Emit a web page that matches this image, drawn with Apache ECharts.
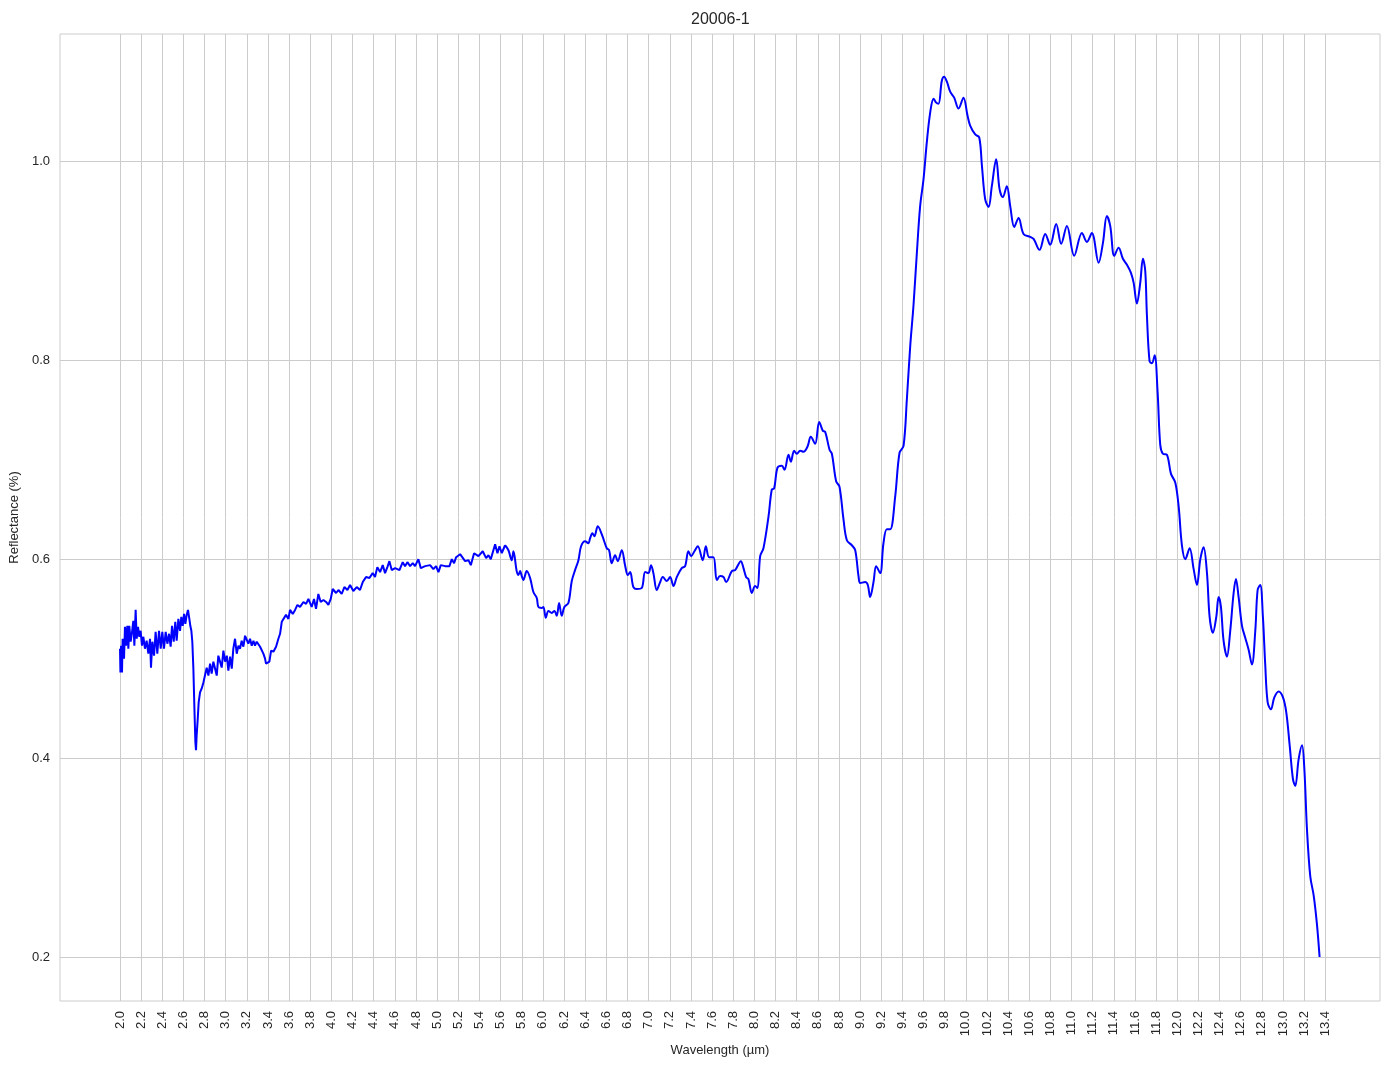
<!DOCTYPE html>
<html>
<head>
<meta charset="utf-8">
<script src="https://cdn.jsdelivr.net/npm/echarts@6/dist/echarts.min.js"></script>
<style>html,body{margin:0;padding:0;background:#fff}#c{width:1394px;height:1069px}</style>
</head>
<body>
<div id="c"></div>
<script>
const titleText = '20006-1';
const xName = 'Wavelength (µm)';
const yName = 'Reflectance (%)';
const xTicks = [2.0,2.2,2.4,2.6,2.8,3.0,3.2,3.4,3.6,3.8,4.0,4.2,4.4,4.6,4.8,5.0,5.2,5.4,5.6,5.8,6.0,6.2,6.4,6.6,6.8,7.0,7.2,7.4,7.6,7.8,8.0,8.2,8.4,8.6,8.8,9.0,9.2,9.4,9.6,9.8,10.0,10.2,10.4,10.6,10.8,11.0,11.2,11.4,11.6,11.8,12.0,12.2,12.4,12.6,12.8,13.0,13.2,13.4];
const yTicks = [0.2,0.4,0.6,0.8,1.0];

// noisy part (2.0 - 5.64 µm)
const wavelengthA = [2.000,2.004,2.010,2.019,2.025,2.038,2.047,2.057,2.069,2.079,2.088,2.101,2.114,2.126,2.136,2.148,2.158,2.170,2.183,2.195,2.208,2.221,2.236,2.252,2.268,2.284,2.293,2.306,2.322,2.337,2.353,2.369,2.385,2.400,2.416,2.432,2.448,2.464,2.479,2.492,2.508,2.523,2.536,2.552,2.568,2.580,2.593,2.606,2.618,2.631,2.643,2.656,2.665,2.675,2.684,2.694,2.703,2.713,2.719,2.725,2.735,2.744,2.757,2.773,2.789,2.804,2.820,2.836,2.852,2.867,2.883,2.899,2.915,2.930,2.946,2.962,2.978,2.994,3.010,3.025,3.041,3.057,3.072,3.088,3.104,3.120,3.135,3.151,3.167,3.183,3.198,3.214,3.230,3.246,3.262,3.277,3.293,3.309,3.325,3.341,3.356,3.372,3.381,3.397,3.413,3.429,3.451,3.476,3.498,3.514,3.530,3.545,3.570,3.593,3.608,3.634,3.656,3.678,3.703,3.735,3.760,3.782,3.797,3.813,3.835,3.854,3.876,3.898,3.924,3.949,3.971,3.993,4.012,4.044,4.066,4.097,4.122,4.151,4.176,4.207,4.239,4.270,4.296,4.327,4.359,4.390,4.412,4.434,4.460,4.485,4.507,4.529,4.548,4.570,4.602,4.643,4.674,4.696,4.718,4.744,4.769,4.791,4.822,4.845,4.886,4.933,4.964,4.990,5.012,5.034,5.075,5.116,5.138,5.160,5.179,5.217,5.264,5.296,5.318,5.349,5.390,5.431,5.463,5.485,5.507,5.548,5.570,5.589,5.611,5.642];
const reflectanceA = [0.510,0.486,0.513,0.486,0.520,0.500,0.532,0.513,0.533,0.510,0.533,0.517,0.527,0.538,0.513,0.549,0.520,0.532,0.522,0.528,0.513,0.522,0.510,0.518,0.505,0.520,0.491,0.517,0.503,0.527,0.505,0.528,0.510,0.527,0.510,0.527,0.515,0.525,0.512,0.533,0.517,0.537,0.518,0.540,0.528,0.542,0.533,0.545,0.535,0.544,0.549,0.540,0.533,0.528,0.517,0.490,0.453,0.416,0.408,0.423,0.439,0.456,0.466,0.470,0.476,0.478,0.491,0.483,0.495,0.485,0.497,0.490,0.483,0.503,0.497,0.491,0.508,0.497,0.503,0.488,0.502,0.490,0.510,0.520,0.505,0.513,0.510,0.518,0.512,0.523,0.522,0.515,0.520,0.513,0.518,0.513,0.517,0.515,0.512,0.510,0.505,0.500,0.495,0.493,0.497,0.508,0.507,0.512,0.520,0.525,0.537,0.535,0.544,0.540,0.549,0.545,0.549,0.554,0.552,0.557,0.555,0.560,0.559,0.552,0.560,0.550,0.565,0.557,0.559,0.557,0.554,0.560,0.570,0.566,0.569,0.565,0.572,0.569,0.574,0.568,0.572,0.569,0.577,0.582,0.581,0.586,0.582,0.592,0.587,0.594,0.586,0.592,0.598,0.589,0.591,0.589,0.597,0.593,0.597,0.593,0.596,0.593,0.600,0.591,0.593,0.594,0.590,0.593,0.587,0.594,0.593,0.593,0.600,0.596,0.602,0.605,0.598,0.599,0.594,0.606,0.603,0.608,0.601,0.604,0.600,0.615,0.606,0.613,0.606,0.614];

// smoother part (5.64 - 13.35 µm)
const wavelengthB = [5.642,5.674,5.705,5.721,5.752,5.768,5.784,5.800,5.815,5.847,5.879,5.910,5.942,5.957,5.989,6.005,6.027,6.052,6.084,6.109,6.131,6.153,6.178,6.203,6.241,6.273,6.304,6.336,6.361,6.399,6.430,6.446,6.468,6.487,6.519,6.557,6.604,6.626,6.651,6.683,6.708,6.746,6.777,6.803,6.825,6.856,6.888,6.935,6.967,6.998,7.023,7.045,7.077,7.109,7.134,7.172,7.203,7.235,7.266,7.313,7.345,7.376,7.402,7.433,7.465,7.512,7.541,7.572,7.613,7.645,7.676,7.708,7.733,7.787,7.818,7.872,7.897,7.922,7.944,7.976,8.007,8.030,8.055,8.086,8.134,8.165,8.187,8.219,8.260,8.285,8.323,8.345,8.376,8.402,8.433,8.465,8.502,8.534,8.575,8.613,8.648,8.670,8.711,8.733,8.774,8.805,8.843,8.875,8.922,8.954,8.985,9.001,9.048,9.073,9.095,9.127,9.152,9.190,9.221,9.253,9.285,9.332,9.373,9.411,9.442,9.474,9.505,9.537,9.568,9.600,9.631,9.663,9.695,9.720,9.742,9.773,9.795,9.821,9.852,9.890,9.931,9.978,10.016,10.041,10.089,10.127,10.152,10.183,10.215,10.246,10.287,10.319,10.350,10.388,10.420,10.458,10.499,10.546,10.609,10.641,10.697,10.751,10.798,10.855,10.902,10.956,11.025,11.098,11.145,11.192,11.256,11.297,11.334,11.366,11.404,11.445,11.486,11.524,11.561,11.587,11.618,11.650,11.675,11.697,11.713,11.738,11.760,11.786,11.814,11.839,11.864,11.902,11.940,11.981,12.013,12.044,12.076,12.117,12.155,12.186,12.218,12.249,12.281,12.306,12.337,12.369,12.391,12.413,12.438,12.470,12.501,12.533,12.555,12.580,12.612,12.643,12.675,12.706,12.738,12.760,12.785,12.810,12.832,12.855,12.886,12.918,12.959,13.000,13.031,13.063,13.094,13.116,13.148,13.180,13.202,13.227,13.258,13.290,13.321,13.346];
const reflectanceB = [0.614,0.609,0.599,0.608,0.588,0.584,0.588,0.583,0.579,0.588,0.581,0.567,0.561,0.552,0.551,0.552,0.541,0.548,0.546,0.548,0.543,0.556,0.543,0.552,0.556,0.578,0.589,0.599,0.613,0.618,0.616,0.621,0.626,0.623,0.633,0.625,0.611,0.609,0.596,0.604,0.598,0.609,0.594,0.584,0.587,0.572,0.570,0.571,0.587,0.586,0.594,0.586,0.569,0.577,0.582,0.578,0.582,0.573,0.582,0.591,0.593,0.608,0.603,0.608,0.613,0.599,0.613,0.602,0.602,0.579,0.583,0.582,0.577,0.588,0.589,0.598,0.591,0.582,0.580,0.566,0.573,0.571,0.603,0.611,0.643,0.670,0.671,0.692,0.694,0.690,0.705,0.698,0.709,0.706,0.709,0.708,0.713,0.723,0.716,0.738,0.729,0.728,0.710,0.706,0.678,0.673,0.640,0.619,0.614,0.609,0.583,0.576,0.577,0.574,0.562,0.577,0.593,0.586,0.616,0.630,0.630,0.663,0.707,0.714,0.760,0.814,0.855,0.908,0.955,0.982,1.019,1.049,1.063,1.059,1.058,1.081,1.085,1.080,1.070,1.064,1.053,1.064,1.046,1.036,1.027,1.024,0.996,0.962,0.954,0.975,1.002,0.972,0.964,0.975,0.955,0.934,0.943,0.927,0.924,0.922,0.911,0.927,0.916,0.937,0.917,0.935,0.905,0.928,0.919,0.928,0.898,0.918,0.945,0.935,0.905,0.913,0.902,0.896,0.888,0.878,0.857,0.878,0.902,0.890,0.845,0.799,0.797,0.805,0.768,0.715,0.706,0.705,0.686,0.677,0.653,0.614,0.600,0.611,0.590,0.574,0.600,0.612,0.586,0.542,0.526,0.542,0.562,0.552,0.518,0.502,0.528,0.566,0.580,0.562,0.533,0.521,0.509,0.494,0.528,0.569,0.574,0.542,0.494,0.456,0.449,0.461,0.467,0.461,0.446,0.413,0.379,0.372,0.399,0.413,0.389,0.328,0.281,0.262,0.233,0.200];

const dataA = wavelengthA.map((w, i) => [w, reflectanceA[i]]);
const dataB = wavelengthB.map((w, i) => [w, reflectanceB[i]]);

const FONT = "'Liberation Sans', Arial, sans-serif";
const TXT = '#262626';
const GRID = '#cccccc';

const chart = echarts.init(document.getElementById('c'), null, {renderer: 'canvas'});
chart.setOption({
  animation: false,
  backgroundColor: '#ffffff',
  title: {
    text: titleText,
    left: 691, top: 12, padding: 0,
    textStyle: {fontFamily: FONT, fontSize: 16, fontWeight: 'normal', color: TXT}
  },
  grid: {left: 60, right: 14, top: 34, bottom: 68, show: true, borderColor: GRID, borderWidth: 1, backgroundColor: 'transparent'},
  xAxis: {
    type: 'value', min: 1.4325, max: 13.9175,
    name: xName, nameLocation: 'middle', nameGap: 40,
    nameTextStyle: {fontFamily: FONT, fontSize: 13, color: TXT},
    axisLine: {show: false},
    axisTick: {show: false, customValues: xTicks},
    axisLabel: {customValues: xTicks, rotate: 90, margin: 10, fontFamily: FONT, fontSize: 13, color: TXT,
      formatter: v => Number(v).toFixed(1)},
    splitLine: {show: true, lineStyle: {color: GRID, width: 1}}
  },
  yAxis: {
    type: 'value', min: 0.1558, max: 1.128,
    name: yName, nameLocation: 'middle', nameGap: 34,
    nameTextStyle: {fontFamily: FONT, fontSize: 13, color: TXT},
    axisLine: {show: false},
    axisTick: {show: false, customValues: yTicks},
    axisLabel: {customValues: yTicks, margin: 10, fontFamily: FONT, fontSize: 13, color: TXT,
      formatter: v => Number(v).toFixed(1)},
    splitLine: {show: true, lineStyle: {color: GRID, width: 1}}
  },
  series: [
    {type: 'line', data: dataA, showSymbol: false, symbol: 'none', lineStyle: {color: '#0000ff', width: 2}, z: 3},
    {type: 'line', data: dataB, showSymbol: false, symbol: 'none', smooth: 0.35, lineStyle: {color: '#0000ff', width: 2}, z: 3}
  ]
});
</script>
</body>
</html>
